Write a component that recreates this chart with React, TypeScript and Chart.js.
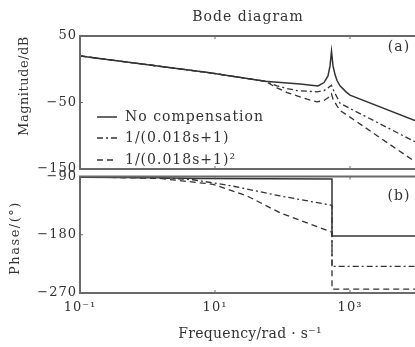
import React, { useEffect, useRef } from "react";
import { Chart, registerables } from "chart.js";

Chart.register(...registerables);

// ---------- data ----------
const xTickValues = [0.1, 10, 1000];
const xTickLabels = ["10⁻¹", "10¹", "10³"];
const xMin = 0.1;
const xMax = 9183;

const magTicks = [50, -50, -150];
const phaseTicks = [-90, -180, -270];

const seriesNames = ["No compensation", "1/(0.018s+1)", "1/(0.018s+1)²"];

// Magnitude (dB)
const magSolidFreq = [0.1, 7.87, 55.1, 182, 336, 412, 472, 506, 532, 560, 600, 642, 711, 873, 1000, 9183];
const magSolid = [20, -5, -18, -22, -25, -20, -10, 5, 27, 5, -8, -17, -25, -34, -39, -77];

const magLagFreq = [0.1, 7.87, 55.1, 83, 117, 164, 324, 412, 472, 532, 560, 642, 711, 1000, 9183];
const magLag = [20, -5, -18, -25, -29, -32, -34, -32, -28, -24, -30, -42, -51, -59, -109];

const magLag2Freq = [0.1, 7.87, 55.1, 83, 117, 164, 231, 324, 412, 472, 532, 560, 642, 711, 1000, 9183];
const magLag2 = [20, -5, -18, -28, -35, -40, -45, -49, -47, -43, -37, -45, -55, -62, -72, -139];

// Phase (deg)
const phSolidFreq = [0.1, 1.53, 6.0, 541, 541, 9183];
const phSolid = [-91, -92, -93, -94, -182, -182];

const phLagFreq = [0.1, 1.53, 4.72, 16.7, 91.9, 506, 541, 541, 9183];
const phLag = [-90.5, -92, -95, -104, -120, -134, -135, -229, -229];

const phLag2Freq = [0.1, 1.53, 9.33, 29.8, 91.9, 506, 541, 541, 9183];
const phLag2 = [-90.5, -93, -102, -120, -146, -175, -176, -264, -264];

// ---------- styles ----------
const INK = "#333";
const FRAME = "#6a6a6a";
const FONT = "'DejaVu Serif', serif";
const dashStyles: number[][] = [[], [6, 3, 2, 3], [6, 4]];
const widths = [1.5, 1.3, 1.3];

const pts = (xs: number[], ys: number[]) => xs.map((x, i) => ({ x, y: ys[i] }));

function drawText(
  ctx: CanvasRenderingContext2D,
  text: string,
  x: number,
  y: number,
  size: number,
  spacing: number,
  align: CanvasTextAlign = "center",
  rotate = 0
) {
  ctx.save();
  ctx.fillStyle = INK;
  ctx.font = `${size}px ${FONT}`;
  (ctx as any).letterSpacing = `${spacing}px`;
  ctx.textAlign = align;
  ctx.textBaseline = "middle";
  ctx.translate(x, y);
  if (rotate) ctx.rotate(rotate);
  ctx.fillText(text, 0, 0);
  ctx.restore();
}

const spacingPlugin = {
  id: "spacing",
  beforeDraw(chart: any) {
    (chart.ctx as any).letterSpacing = "1px";
  },
};

function framePlugin(yTicks: number[], xTicks: number[]) {
  return {
    id: "frame",
    afterDatasetsDraw(chart: any) {
      const { ctx, chartArea: a, scales } = chart;
      ctx.save();
      ctx.setLineDash([]);
      ctx.strokeStyle = FRAME;
      ctx.lineWidth = 2;
      ctx.beginPath();
      ctx.moveTo(a.right + 5, a.top);
      ctx.lineTo(a.left, a.top);
      ctx.lineTo(a.left, a.bottom);
      ctx.lineTo(a.right + 5, a.bottom);
      ctx.stroke();
      ctx.lineWidth = 1;
      ctx.beginPath();
      yTicks.forEach((v) => {
        const y = scales.y.getPixelForValue(v);
        ctx.moveTo(a.left, y);
        ctx.lineTo(a.left + 3, y);
      });
      xTicks.forEach((v) => {
        const x = scales.x.getPixelForValue(v);
        ctx.moveTo(x, a.bottom);
        ctx.lineTo(x, a.bottom - 3);
        ctx.moveTo(x, a.top);
        ctx.lineTo(x, a.top + 3);
      });
      ctx.stroke();
      ctx.restore();
    },
  };
}

const topTextPlugin = {
  id: "topText",
  afterDraw(chart: any) {
    const ctx = chart.ctx as CanvasRenderingContext2D;
    drawText(ctx, "Bode diagram", 248, 17, 14, 1);
    drawText(ctx, "(a)", 399, 47, 14, 1);
    drawText(ctx, "Magnitude/dB", 25, 86, 13, 0.5, "center", -Math.PI / 2);
    const rows = [117, 138, 160];
    rows.forEach((y, i) => {
      ctx.save();
      ctx.strokeStyle = INK;
      ctx.lineWidth = widths[i];
      ctx.setLineDash(dashStyles[i]);
      ctx.beginPath();
      ctx.moveTo(97, y);
      ctx.lineTo(117, y);
      ctx.stroke();
      ctx.restore();
      drawText(ctx, seriesNames[i], 125, y, 14, 1, "left");
    });
  },
};

const bottomTextPlugin = {
  id: "bottomText",
  afterDraw(chart: any) {
    const ctx = chart.ctx as CanvasRenderingContext2D;
    drawText(ctx, "(b)", 399, 31, 14, 1);
    drawText(ctx, "Phase/(°)", 16, 73, 13, 1.5, "center", -Math.PI / 2);
    drawText(ctx, "Frequency/rad · s⁻¹", 250, 169, 14, 0.3);
  },
};

function makeDatasets(series: { x: number; y: number }[][]) {
  return series.map((data, i) => ({
    label: seriesNames[i],
    data,
    showLine: true,
    borderColor: INK,
    backgroundColor: INK,
    borderWidth: widths[i],
    borderDash: dashStyles[i],
    pointRadius: 0,
    tension: 0,
    fill: false,
  }));
}

const yTickFmt = (v: any) => String(v).replace("-", "−");

export default function App() {
  const topRef = useRef<HTMLCanvasElement>(null);
  const botRef = useRef<HTMLCanvasElement>(null);

  useEffect(() => {
    document.body.style.margin = "0";
    const top = new Chart(topRef.current!, {
      type: "scatter",
      data: {
        datasets: makeDatasets([
          pts(magSolidFreq, magSolid),
          pts(magLagFreq, magLag),
          pts(magLag2Freq, magLag2),
        ]) as any,
      },
      options: {
        animation: false,
        responsive: false,
        maintainAspectRatio: false,
        layout: { padding: { top: 36, bottom: 11, left: 0, right: 0 } },
        plugins: { legend: { display: false }, tooltip: { enabled: false }, title: { display: false } },
        scales: {
          x: { type: "logarithmic", min: xMin, max: xMax, display: false },
          y: {
            min: -150,
            max: 50,
            afterBuildTicks: (s: any) => {
              s.ticks = magTicks.map((v) => ({ value: v }));
            },
            afterFit: (s: any) => {
              s.width = 80;
            },
            grid: { display: false, drawTicks: false },
            border: { display: false },
            ticks: {
              padding: 3,
              color: INK,
              font: { family: FONT, size: 13 },
              callback: yTickFmt,
            },
          },
        },
      },
      plugins: [spacingPlugin, framePlugin(magTicks, xTickValues), topTextPlugin],
    });

    const bot = new Chart(botRef.current!, {
      type: "scatter",
      data: {
        datasets: makeDatasets([
          pts(phSolidFreq, phSolid),
          pts(phLagFreq, phLag),
          pts(phLag2Freq, phLag2),
        ]) as any,
      },
      options: {
        animation: false,
        responsive: false,
        maintainAspectRatio: false,
        layout: { padding: { top: 11.5, bottom: 0, left: 0, right: 0 } },
        plugins: { legend: { display: false }, tooltip: { enabled: false }, title: { display: false } },
        scales: {
          x: {
            type: "logarithmic",
            min: xMin,
            max: xMax,
            afterBuildTicks: (s: any) => {
              s.ticks = xTickValues.map((v) => ({ value: v }));
            },
            afterFit: (s: any) => {
              s.height = 54;
            },
            grid: { display: false, drawTicks: false },
            border: { display: false },
            ticks: {
              padding: 7,
              maxRotation: 0,
              autoSkip: false,
              color: INK,
              font: { family: FONT, size: 13 },
              callback: (_v: any, i: number) => xTickLabels[i],
            },
          },
          y: {
            min: -270,
            max: -90,
            afterBuildTicks: (s: any) => {
              s.ticks = phaseTicks.map((v) => ({ value: v }));
            },
            afterFit: (s: any) => {
              s.width = 80;
            },
            grid: { display: false, drawTicks: false },
            border: { display: false },
            ticks: {
              padding: 3,
              color: INK,
              font: { family: FONT, size: 13 },
              callback: yTickFmt,
            },
          },
        },
      },
      plugins: [spacingPlugin, framePlugin(phaseTicks, xTickValues), bottomTextPlugin],
    });

    return () => {
      top.destroy();
      bot.destroy();
    };
  }, []);

  return (
    <div
      style={{
        position: "fixed",
        left: 0,
        top: 0,
        width: 415,
        height: 347,
        overflow: "hidden",
        background: "#fff",
      }}
    >
      <canvas ref={topRef} width={415} height={180} style={{ position: "absolute", left: 0, top: 0 }} />
      <canvas ref={botRef} width={415} height={182} style={{ position: "absolute", left: 0, top: 165 }} />
    </div>
  );
}
